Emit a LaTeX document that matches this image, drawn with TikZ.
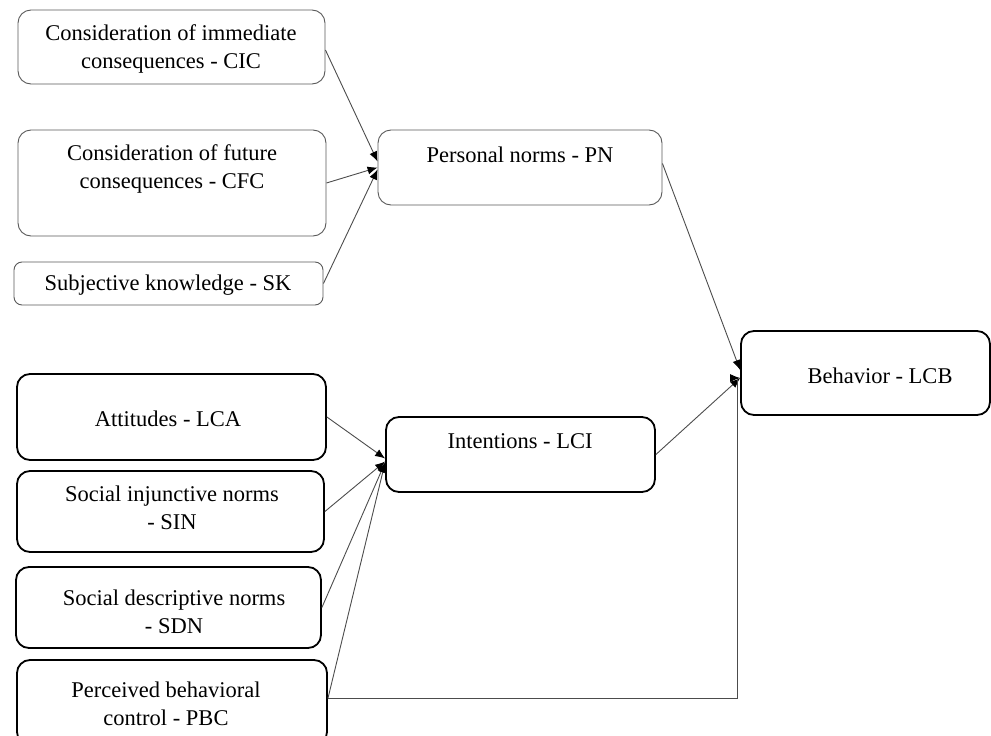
\documentclass[tikz,border=0pt]{standalone}
\usepackage{fontspec}
\setmainfont{Liberation Serif}
\usetikzlibrary{arrows.meta,calc}
\begin{document}
\begin{tikzpicture}[x=1pt,y=-1pt,
  lightbox/.style={draw=black!65, line width=0.9pt, rounded corners=13pt, inner sep=0pt},
  darkbox/.style={draw=black, line width=1.8pt, rounded corners=13pt, inner sep=0pt},
  lbl/.style={align=center, font=\fontsize{22.5}{28.5}\selectfont, inner sep=0pt},
  conn/.style={draw=black!70, line width=0.9pt, -{Latex[length=10pt,width=8pt,color=black]}}]
\useasboundingbox (0,0) rectangle (991,736);
% top group
\node[lightbox, minimum width=307pt, minimum height=74pt] (cic) at (171.5,47) {};
\node[lbl] (cict) at (171,49) {Consideration of immediate\\consequences - CIC};
\node[lightbox, minimum width=308pt, minimum height=106pt] (cfc) at (172,183) {};
\node[lbl] (cfct) at (172,169) {Consideration of future\\consequences - CFC};
\node[lightbox, minimum width=309pt, minimum height=43pt, rounded corners=8pt] (sk) at (168.5,283.5) {};
\node[lbl] (skt) at (168,285) {Subjective knowledge - SK};
\node[lightbox, minimum width=284pt, minimum height=75pt] (pn) at (520,167.5) {};
\node[lbl] (pnt) at (520,155) {Personal norms - PN};
% bottom group
\node[darkbox, minimum width=249pt, minimum height=84pt] (beh) at (865.5,373) {};
\node[lbl] (beht) at (880,376) {Behavior - LCB};
\node[darkbox, minimum width=269pt, minimum height=75pt] (lci) at (520.5,454.5) {};
\node[lbl] (lcit) at (520,441) {Intentions - LCI};
\node[darkbox, minimum width=309pt, minimum height=86pt] (lca) at (171.5,417) {};
\node[lbl] (lcat) at (168,419) {Attitudes - LCA};
\node[darkbox, minimum width=307pt, minimum height=81pt] (sin) at (170.5,511.5) {};
\node[lbl] (sint) at (172,508) {Social injunctive norms\\- SIN};
\node[darkbox, minimum width=305pt, minimum height=81pt] (sdn) at (168.5,607.5) {};
\node[lbl] (sdnt) at (174,612) {Social descriptive norms\\- SDN};
\node[darkbox, minimum width=310pt, minimum height=85pt] (pbc) at (172,702.5) {};
\node[lbl] (pbct) at (166,704) {Perceived behavioral\\control - PBC};
% connectors to PN
\draw[conn] ([yshift=-3pt]cic.east) -- ([yshift=6pt]pn.west);
\draw[conn] (cfc.east) -- ([yshift=0pt]pn.west);
\draw[conn] (sk.east) -- ([yshift=-2pt]pn.west);
% connectors to LCI
\draw[conn] (lca.east) -- ([yshift=-4pt]lci.west);
\draw[conn] (sin.east) -- ([yshift=-7pt]lci.west);
\draw[conn] (sdn.east) -- ([yshift=-8pt]lci.west);
\draw[conn] ([yshift=4pt]pbc.east) -- ([yshift=-8pt]lci.west);
% connectors to Behavior
\draw[conn] ([yshift=4pt]pn.east) -- ([yshift=3pt]beh.west);
\draw[conn] (lci.east) -- ([yshift=-5pt]beh.west);
\draw[conn] ([yshift=4pt]pbc.east) -| ([xshift=-3pt,yshift=-5pt]beh.west) -- ([yshift=-5pt]beh.west);
\end{tikzpicture}
\end{document}
